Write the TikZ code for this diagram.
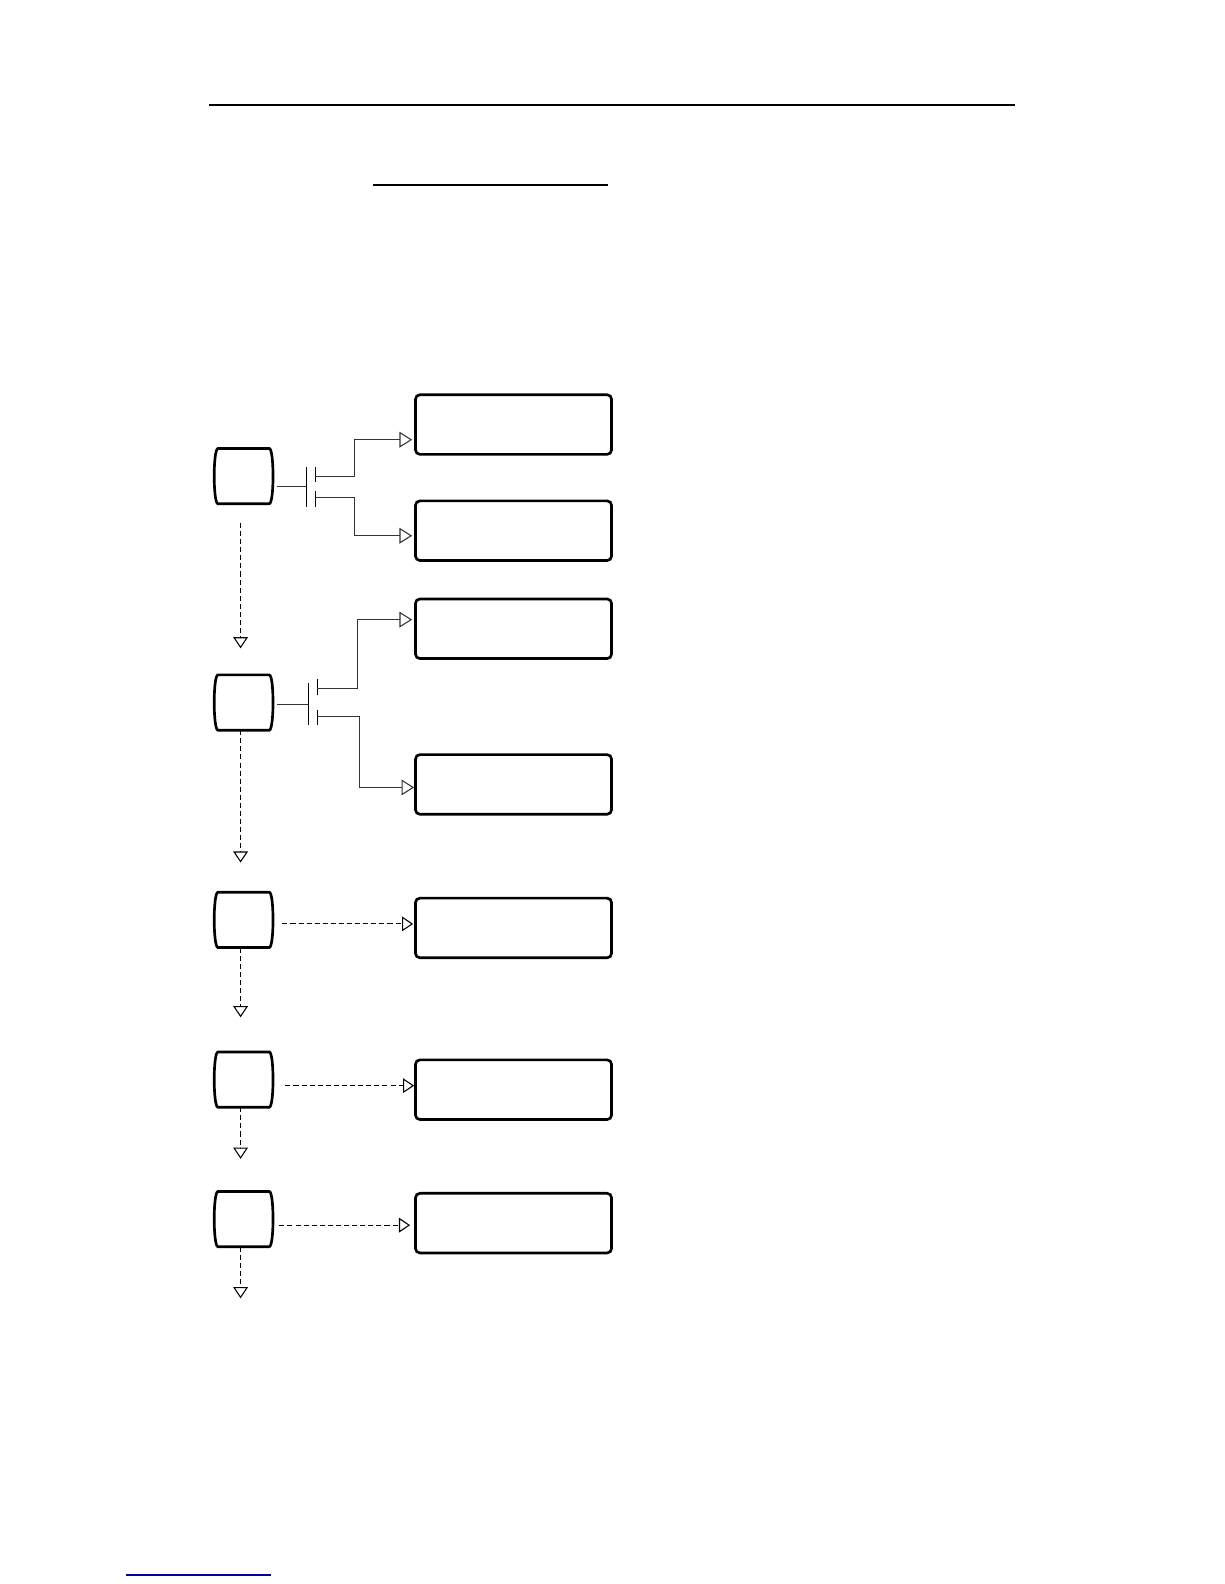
\documentclass[tikz,border=0pt]{standalone}
\usetikzlibrary{arrows.meta,calc}

\tikzset{
  txtbox/.style={draw, line width=1.5pt, rounded corners=2.5pt, minimum width=3.88cm, minimum height=1.18cm, inner sep=0pt},
  stepnode/.style={minimum width=1.16cm, minimum height=1.08cm, inner sep=0pt},
  barrel/.style={line width=1.5pt},
  link/.style={line width=0.6pt, black!80, -{Triangle[open, length=2.5mm, width=3.1mm]}},
  flow/.style={line width=0.6pt, dash pattern=on 1mm off 0.6mm, -{Triangle[open, length=2.2mm, width=2.9mm]}},
  gatebar/.style={line width=0.7pt},
}

\begin{document}
\begin{tikzpicture}[x=0.02cm, y=-0.02cm]
     \useasboundingbox (0,0) rectangle (1211,1567);

     % page rules
     \draw[line width=1.3pt] (207,104) -- (1004,104);
     \draw[line width=0.7pt] (369,183) -- (601,183);
     \draw[line width=0.7pt, color={rgb,255:red,0;green,0;blue,160}] (125,1558) -- (268,1558);

     \node[stepnode] (s1) at (241,471) {};
     \node[stepnode] (s2) at (241,695) {};
     \node[stepnode] (s3) at (241,910) {};
     \node[stepnode] (s4) at (241,1068) {};
     \node[stepnode] (s5) at (241,1206) {};

     \foreach \n in {s1,s2,s3,s4,s5}
       \draw[barrel] ($(\n.north west)+(4,0)$) -- ($(\n.north east)+(-4,0)$)
          .. controls ($(\n.north east)+(1,0)$) and ($(\n.south east)+(1,0)$) .. ($(\n.south east)+(-4,0)$)
          -- ($(\n.south west)+(4,0)$)
          .. controls ($(\n.south west)+(-1,0)$) and ($(\n.north west)+(-1,0)$) .. cycle;

     \node[txtbox] (b1) at (508,420) {};
     \node[txtbox] (b2) at (508,525) {};
     \node[txtbox] (b3) at (508,622) {};
     \node[txtbox] (b4) at (508,776) {};
     \node[txtbox] (b5) at (508,918) {};
     \node[txtbox] (b6) at (508,1078) {};
     \node[txtbox] (b7) at (508,1210) {};

     % gate 1
     \coordinate (g1) at (303,481);
     \coordinate (g1a) at (303,462);
     \coordinate (g1b) at (303,502);
     \coordinate (u1a) at (312,462);
     \coordinate (u1b) at (312,477);
     \coordinate (l1a) at (312,486);
     \coordinate (l1b) at (312,502);
     \draw[gatebar] (g1a) -- (g1b);
     \draw[gatebar] (u1a) -- (u1b);
     \draw[gatebar] (l1a) -- (l1b);
     \draw[line width=0.6pt, black!80] ($(s1.east |- g1)+(4,0)$) -- (g1);
     \draw[link] ($(u1a)+(0,9)$) -- ++(39,0) |- ($(b1.west)+(-2,15)$);
     \draw[link] ($(l1a)+(0,6)$) -- ++(39,0) |- ($(b2.west)+(-2,5)$);

     % gate 2
     \coordinate (g2) at (305,697);
     \coordinate (g2a) at (305,676);
     \coordinate (g2b) at (305,717);
     \coordinate (u2a) at (314,672);
     \coordinate (u2b) at (314,688);
     \coordinate (l2a) at (314,702);
     \coordinate (l2b) at (314,717);
     \draw[gatebar] (g2a) -- (g2b);
     \draw[gatebar] (u2a) -- (u2b);
     \draw[gatebar] (l2a) -- (l2b);
     \draw[line width=0.6pt, black!80] ($(s2.east |- g2)+(4,0)$) -- (g2);
     \draw[link] ($(u2a)+(0,9)$) -- ++(40,0) |- ($(b3.west)+(-2,-9)$);
     \draw[link] ($(l2a)+(0,7)$) -- ++(42,0) |- ($(b4.west)+(0,3)$);

     % flow down
     \draw[flow] ($(s1.south)+(-3,19)$) -- ++(0,124);
     \draw[flow] ($(s2.south)+(-3,0)$) -- ++(0,131);
     \draw[flow] ($(s3.south)+(-3,0)$) -- ++(0,69);
     \draw[flow] ($(s4.south)+(-3,0)$) -- ++(0,51);
     \draw[flow] ($(s5.south)+(-3,0)$) -- ++(0,51);

     % flow right
     \draw[flow] ($(s3.east)+(9,4)$) -- ($(b5.west)+(-1,-4)$);
     \draw[flow] ($(s4.east)+(12,6)$) -- ($(b6.west)+(0,-4)$);
     \draw[flow] ($(s5.east)+(6,6)$) -- ($(b7.west)+(-4,2)$);

\end{tikzpicture}
\end{document}
